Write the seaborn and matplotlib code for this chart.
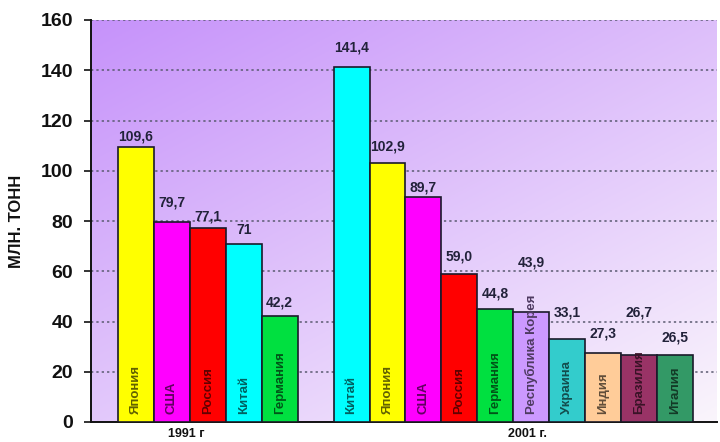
import numpy as np
import pandas as pd
import matplotlib
matplotlib.use("Agg")
import matplotlib.pyplot as plt
import matplotlib.colors as mcolors
import seaborn as sns

# ---------------- data ----------------
countries_1991 = ["Япония", "США", "Россия", "Китай", "Германия"]
values_1991 = [109.6, 79.7, 77.1, 71.0, 42.2]
value_labels_1991 = ["109,6", "79,7", "77,1", "71", "42,2"]

countries_2001 = ["Китай", "Япония", "США", "Россия", "Германия",
                  "Республика Корея", "Украина", "Индия", "Бразилия", "Италия"]
values_2001 = [141.4, 102.9, 89.7, 59.0, 44.8, 43.9, 33.1, 27.3, 26.7, 26.5]
value_labels_2001 = ["141,4", "102,9", "89,7", "59,0", "44,8",
                     "43,9", "33,1", "27,3", "26,7", "26,5"]

group_labels = ["1991 г", "2001 г."]
y_label = "МЛН. ТОНН"
y_ticks = [0, 20, 40, 60, 80, 100, 120, 140, 160]

# ---------------- style ----------------
country_colors = {
    "Япония": "#FFFF00", "США": "#FF00FF", "Россия": "#FF0000",
    "Китай": "#00FFFF", "Германия": "#00E040", "Республика Корея": "#CC99FF",
    "Украина": "#33CCCC", "Индия": "#FFCC99", "Бразилия": "#993366",
    "Италия": "#339966",
}
# vertical lift of each value label above its bar (data units, label centre)
label_lift = [4.2, 7.5, 4.5, 5.4, 5.2,
              7.5, 6.6, 3.8, 6.7, 6.5, 19.4, 10.3, 8.1, 16.7, 7.3]

rows = []
for c, v, l in zip(countries_1991, values_1991, value_labels_1991):
    rows.append({"id": f"{c} 1991", "country": c, "value": v, "label": l})
for c, v, l in zip(countries_2001, values_2001, value_labels_2001):
    rows.append({"id": f"{c} 2001", "country": c, "value": v, "label": l})
df = pd.DataFrame(rows)

ids_1991 = [f"{c} 1991" for c in countries_1991]
ids_2001 = [f"{c} 2001" for c in countries_2001]
order = ids_1991 + ["__gap__"] + ids_2001
palette = {r["id"]: country_colors[r["country"]] for r in rows}

sns.set_theme(style="white")
plt.rcParams["font.family"] = ["Liberation Sans", "DejaVu Sans"]

fig = plt.figure(figsize=(7.2, 4.42), dpi=100)
ax = fig.add_axes([91 / 720, 20 / 442, (717 - 91) / 720, (422 - 20) / 442])

# gradient background (purple top-left -> near white bottom-right)
gx, gy = np.meshgrid(np.linspace(0, 1, 200), np.linspace(0, 1, 200))
t = np.clip(0.55 * gy + 0.45 * gx, 0, 1)  # row 0 is the top (origin='upper')
c0 = np.array([198, 146, 250]) / 255
c1 = np.array([250, 245, 252]) / 255
img = c0[None, None, :] * (1 - t[..., None]) + c1[None, None, :] * t[..., None]
ax.imshow(img, extent=[0, 1, 0, 1], transform=ax.transAxes, aspect="auto",
          zorder=0, origin="upper")

sns.barplot(data=df, x="id", y="value", hue="id", palette=palette, order=order,
            width=1.0, edgecolor="#1a1a2a", linewidth=1.2, legend=False,
            saturation=1, ax=ax, zorder=3)

ax.set_ylim(0, 160)
ax.set_xlim(-1.25, 16.17)
ax.set_yticks(y_ticks)
ax.set_yticklabels([str(v) for v in y_ticks], fontsize=14, fontweight="bold",
                   color="#111111")
ax.tick_params(axis="y", direction="out", length=5, width=1.2, color="#111111",
               pad=8, left=True)
for yv in y_ticks[1:]:
    ax.axhline(yv, color="#5a5a70", linestyle=(0, (1.5, 2.0)), linewidth=1.1,
               zorder=1)

ax.set_xticks([1.4, 10.9])
ax.set_xticklabels(group_labels, fontsize=9, fontweight="bold", color="#111111")
ax.tick_params(axis="x", length=0, pad=4)
ax.set_xlabel("")
ax.set_ylabel(y_label, fontsize=12, fontweight="bold", color="#111111",
              labelpad=12)

for s in ["top", "right"]:
    ax.spines[s].set_visible(False)
for s in ["left", "bottom"]:
    ax.spines[s].set_visible(True)
    ax.spines[s].set_color("#111111")
    ax.spines[s].set_linewidth(1.4)

# labels
pos = {k: i for i, k in enumerate(order)}
for i, r in enumerate(rows):
    x = pos[r["id"]]
    ax.text(x, r["value"] + label_lift[i], r["label"], ha="center", va="center",
            fontsize=10, fontweight="bold", color="#22223a", zorder=5)
    col = np.array(mcolors.to_rgb(country_colors[r["country"]])) * 0.38
    ax.text(x, 3, r["country"], rotation=90, ha="center", va="bottom",
            fontsize=9.5, fontweight="bold", color=col, zorder=5)

fig.savefig("out.png", dpi=100)
